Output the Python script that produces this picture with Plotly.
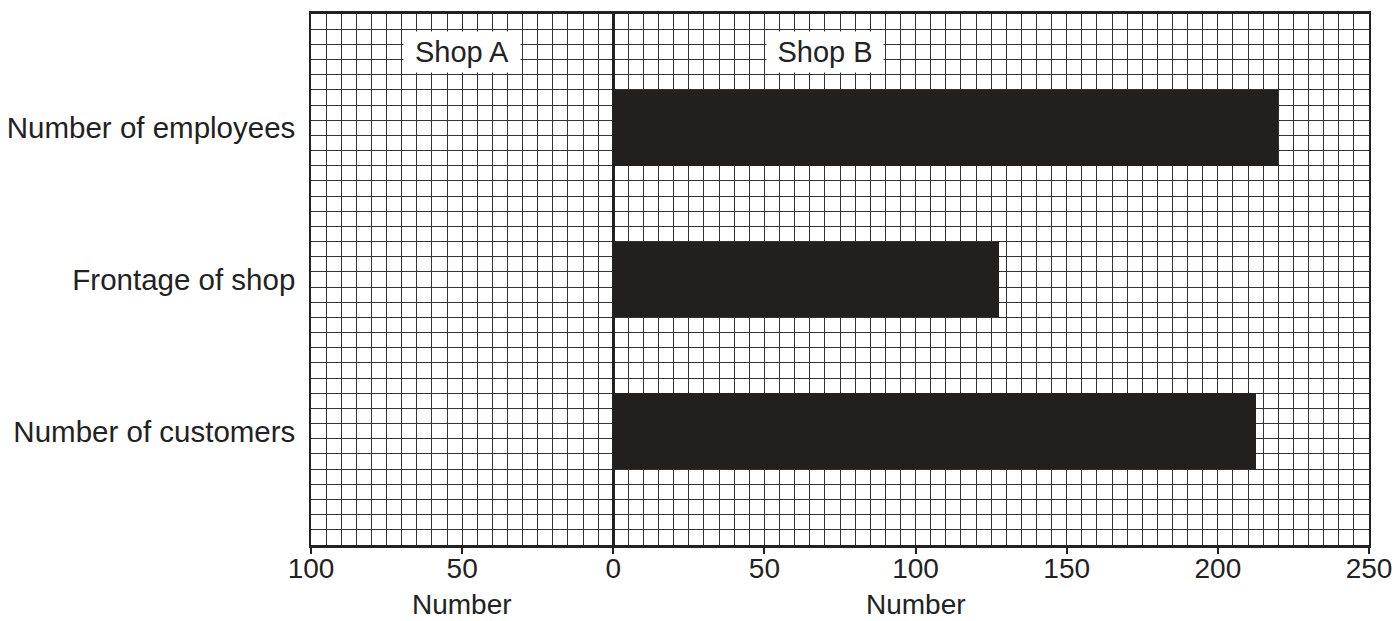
import plotly.graph_objects as go

categories = ["Number of customers", "Frontage of shop", "Number of employees"]
shop_b_values = [212.5, 127.5, 220]
x_tick_vals = [-100, -50, 0, 50, 100, 150, 200, 250]
x_tick_text = ["100", "50", "0", "50", "100", "150", "200", "250"]
panel_labels = ["Shop A", "Shop B"]
panel_label_x = [-50, 70]
axis_title_x = [-50, 100]

FONT = "Liberation Sans, Arial, sans-serif"
INK = "#222222"
GRID = "#333333"
positions = list(range(len(categories)))

fig = go.Figure()
fig.add_trace(go.Bar(
    x=shop_b_values, y=positions, orientation="h", width=0.5,
    marker=dict(color="#21201e", line=dict(width=0)), showlegend=False,
    hoverinfo="skip",
))

fig.update_layout(
    width=1396, height=621,
    margin=dict(l=311, r=27, t=14, b=76),
    paper_bgcolor="white", plot_bgcolor="white",
    font=dict(family=FONT, size=29, color=INK),
    bargap=0,
)

fig.update_xaxes(
    range=[-100, 250], tickmode="array", tickvals=x_tick_vals, ticktext=x_tick_text,
    automargin=False,
    showgrid=True, gridcolor=GRID, gridwidth=1,
    minor=dict(dtick=5, tick0=0, showgrid=True, gridcolor=GRID, gridwidth=1, ticks=""),
    zeroline=True, zerolinecolor=INK, zerolinewidth=3,
    showline=True, linecolor=INK, linewidth=2.5, mirror=True,
    ticks="outside", ticklen=6, tickwidth=2, tickcolor=INK,
    ticklabelstandoff=-9,
    tickfont=dict(size=28, color=INK, family=FONT),
)
fig.update_yaxes(
    range=[-0.75, 2.75], tickmode="array", tickvals=positions, ticktext=categories,
    automargin=False,
    showgrid=False, zeroline=False,
    minor=dict(dtick=0.1, tick0=-0.75, showgrid=True, gridcolor=GRID, gridwidth=1, ticks=""),
    showline=True, linecolor=INK, linewidth=1.5, mirror=True,
    ticks="outside", ticklen=8, tickcolor="white",
    tickfont=dict(size=29.5, color=INK, family=FONT),
)

for label, xv in zip(panel_labels, panel_label_x):
    fig.add_annotation(
        x=xv, y=2.5, xref="x", yref="y", text=label, showarrow=False,
        bgcolor="white", width=116, height=40, borderpad=0,
        font=dict(size=29, color=INK, family=FONT),
    )

for xv in axis_title_x:
    fig.add_annotation(
        x=xv, y=-0.112, xref="x", yref="paper", text="Number", showarrow=False,
        yanchor="middle", font=dict(size=28, color=INK, family=FONT),
    )

# remove the browser's default 8px body margin so the 1396x621 figure fits the window exactly
fig.write_html(
    "out.html",
    config={"displayModeBar": False},
    post_script="document.body.style.margin='0px';",
)
